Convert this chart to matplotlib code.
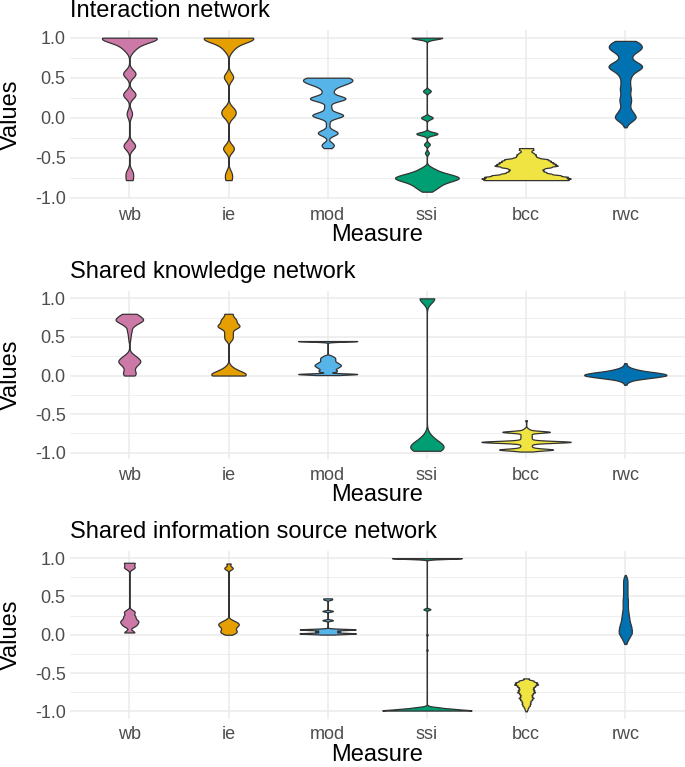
import numpy as np
import matplotlib
matplotlib.use("Agg")
import matplotlib.pyplot as plt

plt.rcParams['font.family'] = ['Liberation Sans', 'DejaVu Sans']

measures = ["wb", "ie", "mod", "ssi", "bcc", "rwc"]
colors = ["#CC79A7", "#E69F00", "#56B4E9", "#009E73", "#F0E442", "#0072B2"]
panel_titles = ["Interaction network", "Shared knowledge network", "Shared information source network"]
y_ticks = [-1.0, -0.5, 0.0, 0.5, 1.0]
y_tick_labels = ["-1.0", "-0.5", "0.0", "0.5", "1.0"]

# ---------------- Interaction network ----------------
int_wb_values = [1.0, 0.95, 0.9, 0.85, 0.55, 0.29, 0.05, -0.35, -0.69, -0.78]
int_wb_counts = [60, 15, 8, 8, 16, 16, 7, 15, 8, 7]
int_ie_values = [1.0, 0.95, 0.9, 0.85, 0.51, 0.10, 0.03, -0.385, -0.70, -0.78]
int_ie_counts = [54, 14, 7, 7, 12, 12, 12, 14, 7, 6]
int_mod_values = [0.50, 0.45, 0.40, 0.33, 0.24, 0.13, 0.03, -0.08, -0.19, -0.34, -0.38]
int_mod_counts = [28, 28, 14, 8, 32, 6, 28, 3, 18, 10, 2]
int_ssi_values = [1.0, 0.333, 0.0, -0.2, -0.333, -0.44, -0.60, -0.625, -0.65, -0.675,
                  -0.70, -0.725, -0.75, -0.775, -0.80, -0.825, -0.85, -0.875, -0.90, -0.925]
int_ssi_counts = [16, 4, 6, 11, 3, 2, 1, 3, 5, 7, 11, 15, 18, 16, 12, 9, 7, 6, 4, 3]
int_bcc_values = [-0.38, -0.40, -0.42, -0.44, -0.46, -0.48, -0.50, -0.52, -0.54, -0.56, -0.58,
                  -0.60, -0.62, -0.64, -0.66, -0.68, -0.70, -0.72, -0.74, -0.76, -0.78]
int_bcc_counts = [3, 3, 2, 3, 4, 4, 5, 9, 10, 11, 12, 13, 10, 7, 7, 8, 10, 14, 17, 18, 18]
int_rwc_values = [0.96, 0.92, 0.88, 0.84, 0.80, 0.76, 0.72, 0.68, 0.64, 0.60, 0.56, 0.52, 0.48, 0.44,
                  0.40, 0.36, 0.32, 0.28, 0.24, 0.20, 0.16, 0.12, 0.08, 0.04, 0.00, -0.04, -0.08, -0.12]
int_rwc_counts = [10, 13, 15, 12, 7, 5, 6, 12, 16, 12, 7, 5, 4, 4,
                  4, 5, 4, 4, 5, 5, 4, 4, 6, 8, 10, 6, 2, 1]
int_bandwidths = [0.05, 0.05, 0.035, 0.02, 0.009, 0.03]

# ---------------- Shared knowledge network ----------------
kno_wb_values = [0.80, 0.76, 0.72, 0.68, 0.64, 0.58, 0.52, 0.46,
                 0.30, 0.26, 0.22, 0.18, 0.14, 0.10, 0.06, 0.02, 0.0]
kno_wb_counts = [12, 16, 24, 13, 6, 5, 3, 2,
                 2, 8, 14, 18, 12, 7, 8, 9, 5]
kno_ie_values = [0.80, 0.72, 0.64, 0.55, 0.48, 0.12, 0.08, 0.04, 0.0]
kno_ie_counts = [11, 21, 32, 11, 11, 4, 10, 22, 38]
kno_mod_values = [0.447, 0.26, 0.245, 0.23, 0.215, 0.20, 0.185, 0.17, 0.155, 0.14, 0.125,
                  0.11, 0.095, 0.08, 0.065, 0.05, 0.02, 0.006]
kno_mod_counts = [21, 2, 3, 4, 4, 4, 4, 5, 6, 7, 7, 6, 5, 4, 5, 5, 20, 4]
kno_ssi_values = [1.0, -0.78, -0.85, -0.90, -0.95, -0.975]
kno_ssi_counts = [39, 11, 22, 34, 34, 22]
kno_bcc_values = [-0.58, -0.68, -0.70, -0.73, -0.76, -0.78, -0.80, -0.82, -0.84, -0.86,
                  -0.88, -0.90, -0.92, -0.94, -0.96, -0.985]
kno_bcc_counts = [1, 1, 3, 25, 4, 4, 4, 4, 5, 45, 5, 4, 4, 5, 27, 4]
kno_rwc_values = [0.16, 0.14, 0.12, 0.10, 0.08, 0.06, 0.04, 0.02, 0.00, -0.02, -0.04,
                  -0.06, -0.08, -0.10, -0.12]
kno_rwc_counts = [1, 1, 2, 4, 8, 13, 22, 29, 30, 23, 14, 6, 3, 1, 1]
kno_bandwidths = [0.03, 0.035, 0.008, 0.06, 0.012, 0.012]

# ---------------- Shared information source network ----------------
src_wb_values = [0.94, 0.88, 0.30, 0.24, 0.19, 0.16, 0.12, 0.03]
src_wb_counts = [18, 18, 18, 18, 18, 18, 18, 18]
src_ie_values = [0.93, 0.87, 0.20, 0.18, 0.16, 0.14, 0.12, 0.10, 0.08, 0.06, 0.04, 0.02, 0.0]
src_ie_counts = [6, 12, 3, 7, 11, 13, 12, 9, 7, 9, 11, 9, 3]
src_mod_values = [0.475, 0.46, 0.31, 0.19, 0.069, 0.043, 0.017, 0.002]
src_mod_counts = [4, 4, 6, 6, 32, 14, 32, 2]
src_ssi_values = [1.0, 0.333, 0.0, -0.2, -0.93, -0.95, -0.97, -0.99]
src_ssi_counts = [50, 5, 1, 1, 2, 15, 32, 59]
src_bcc_values = [-0.57, -0.60, -0.625, -0.65, -0.675, -0.70, -0.725, -0.75, -0.775, -0.80,
                  -0.825, -0.85, -0.875, -0.90, -0.925, -0.95, -0.975, -1.0]
src_bcc_counts = [4, 10, 15, 16, 12, 10, 11, 12, 9, 8, 10, 8, 6, 6, 5, 3, 2, 1]
src_rwc_values = [0.78, 0.74, 0.70, 0.66, 0.62, 0.58, 0.54, 0.50, 0.46, 0.42, 0.38, 0.34,
                  0.30, 0.26, 0.22, 0.18, 0.14, 0.10, 0.06, 0.02, -0.02, -0.06, -0.10, -0.12]
src_rwc_counts = [1, 4, 5, 5, 5, 5, 5, 5, 6, 6, 6, 6, 7, 8, 9, 10, 12, 14, 15, 15, 11, 7, 3, 1]
src_bandwidths = [0.025, 0.02, 0.008, 0.01, 0.01, 0.02]

panels = [
    ([int_wb_values, int_ie_values, int_mod_values, int_ssi_values, int_bcc_values, int_rwc_values],
     [int_wb_counts, int_ie_counts, int_mod_counts, int_ssi_counts, int_bcc_counts, int_rwc_counts],
     int_bandwidths),
    ([kno_wb_values, kno_ie_values, kno_mod_values, kno_ssi_values, kno_bcc_values, kno_rwc_values],
     [kno_wb_counts, kno_ie_counts, kno_mod_counts, kno_ssi_counts, kno_bcc_counts, kno_rwc_counts],
     kno_bandwidths),
    ([src_wb_values, src_ie_values, src_mod_values, src_ssi_values, src_bcc_values, src_rwc_values],
     [src_wb_counts, src_ie_counts, src_mod_counts, src_ssi_counts, src_bcc_counts, src_rwc_counts],
     src_bandwidths),
]


def kde_profile(values, counts, bw, n=700):
    v = np.asarray(values, float)
    c = np.asarray(counts, float)
    y = np.linspace(v.min(), v.max(), n)
    d = (y[:, None] - v[None, :]) / bw
    dens = (c[None, :] * np.exp(-0.5 * d ** 2)).sum(axis=1) / (bw * np.sqrt(2 * np.pi))
    return y, dens


W, H = 685, 767
fig = plt.figure(figsize=(W / 100, H / 100), dpi=100)

ax_left = 69.8 / W
ax_width = 615 / W
panel_px = [(30.0, 199.4), (290.7, 459.2), (550.5, 719.0)]

grid_col = "#EBEBEB"
for p, (vals_list, cnt_list, bws) in enumerate(panels):
    top, bot = panel_px[p]
    ax = fig.add_axes([ax_left, 1 - bot / H, ax_width, (bot - top) / H])
    profiles = [kde_profile(v, c, b) for v, c, b in zip(vals_list, cnt_list, bws)]
    dmax = max(d.max() for _, d in profiles)
    for i, (y, d) in enumerate(profiles):
        half = 0.45 * d / dmax
        xc = i + 1
        ax.fill_betweenx(y, xc - half, xc + half, facecolor=colors[i],
                         edgecolor="#333333", linewidth=0.9, zorder=3)
    lo = min(min(v) for v in vals_list)
    hi = max(max(v) for v in vals_list)
    pad = 0.05 * (hi - lo)
    ax.set_ylim(lo - pad, hi + pad)
    ax.set_xlim(0.4, 6.6)
    ax.set_xticks(range(1, 7))
    ax.set_xticklabels(measures)
    ax.set_yticks(y_ticks)
    ax.set_yticklabels(y_tick_labels)
    ax.set_yticks([-0.75, -0.25, 0.25, 0.75], minor=True)
    ax.grid(which="major", color=grid_col, linewidth=1.1, zorder=0)
    ax.grid(which="minor", axis="y", color=grid_col, linewidth=0.55, zorder=0)
    ax.set_axisbelow(True)
    for s in ax.spines.values():
        s.set_visible(False)
    ax.tick_params(axis="both", which="both", length=0, labelsize=13, colors="#4D4D4D")
    ax.tick_params(axis="x", pad=5.3)
    ax.tick_params(axis="y", pad=3.0)
    ax.annotate(panel_titles[p], xy=(0, 1), xycoords="axes fraction",
                xytext=(0, 9.1), textcoords="offset points",
                ha="left", va="baseline", fontsize=17, color="black")
    ax.annotate("Measure", xy=(0.5, 0), xycoords="axes fraction",
                xytext=(0, -30.0), textcoords="offset points",
                ha="center", va="baseline", fontsize=17, color="black")
    ax.text(-59 / 615, 0.5, "Values", transform=ax.transAxes, rotation=90,
            ha="center", va="center", fontsize=17, color="black")

fig.savefig("out.png", dpi=100)
